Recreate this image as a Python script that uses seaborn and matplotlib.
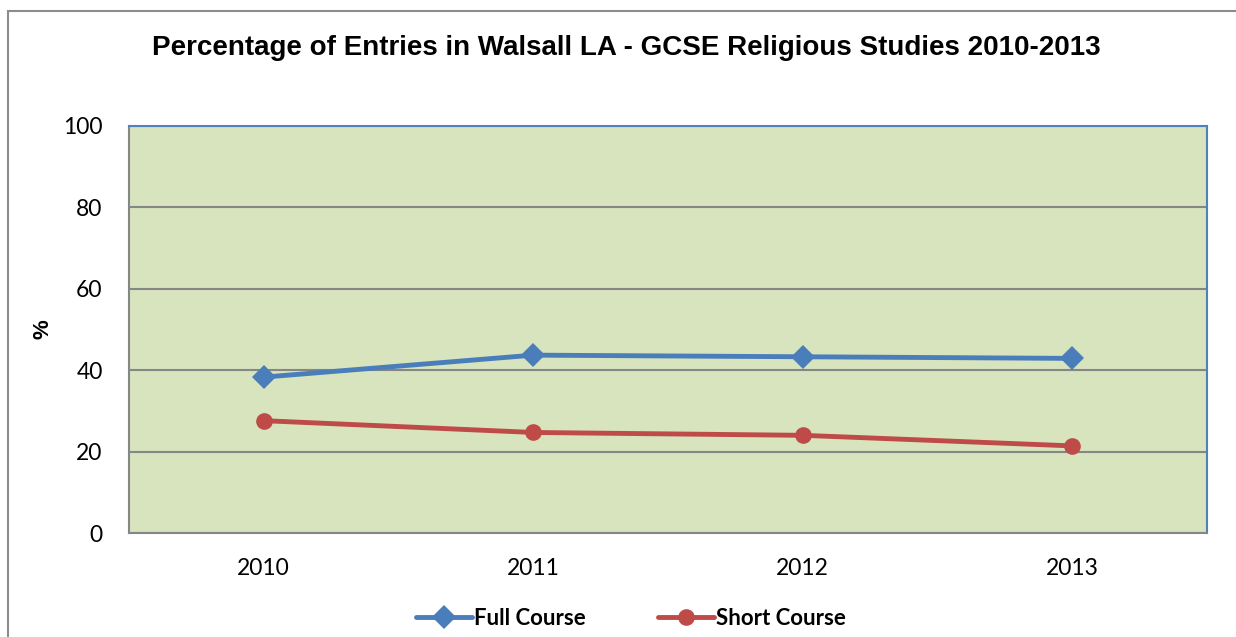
import matplotlib
matplotlib.use("Agg")
import matplotlib.pyplot as plt
import seaborn as sns
import pandas as pd
from matplotlib.patches import Rectangle

# Percentage of entries, Walsall LA GCSE RS
years = [2010, 2011, 2012, 2013]
full_course = [38.3, 43.7, 43.3, 42.9]
short_course = [27.6, 24.7, 24.0, 21.4]
series_names = ["Full Course", "Short Course"]
y_ticks = [0, 20, 40, 60, 80, 100]

df = pd.DataFrame({
    "year": years * 2,
    "value": full_course + short_course,
    "series": [series_names[0]] * len(years) + [series_names[1]] * len(years),
})

sns.set_style("white")
plt.rcParams["font.family"] = ["Liberation Sans", "DejaVu Sans"]
plt.rcParams["text.color"] = "black"
plt.rcParams["xtick.color"] = "black"
plt.rcParams["ytick.color"] = "black"
plt.rcParams["axes.labelcolor"] = "black"

fig = plt.figure(figsize=(12.36, 6.37), dpi=100)
ax = fig.add_axes([129 / 1236, 1 - 533 / 637, (1207 - 129) / 1236, (533 - 126) / 637])

# outer chart frame
fig.patches.append(Rectangle((8 / 1236, -0.1), 1.2, 1 - 11 / 637 + 0.1,
                             transform=fig.transFigure, fill=False,
                             edgecolor="#8c8c8c", linewidth=1.5))

ax.set_facecolor("#d7e4bd")
palette = {"Full Course": "#4a7ebb", "Short Course": "#be4b48"}
markers = {"Full Course": "D", "Short Course": "o"}
sns.lineplot(data=df, x="year", y="value", hue="series", style="series",
             palette=palette, markers=markers, dashes=False, linewidth=3.5,
             markersize=12, markeredgewidth=0, ax=ax, zorder=3)

ax.set_xlim(years[0] - 0.5, years[-1] + 0.5)
ax.set_ylim(0, 100)
ax.set_xticks(years)
ax.set_xticklabels([str(y) for y in years], family="Lato", fontsize=16.5)
ax.set_yticks(y_ticks)
ax.set_yticklabels([str(t) for t in y_ticks], family="Lato", fontsize=16.5)
ax.tick_params(axis="both", length=0)
ax.tick_params(axis="y", pad=19)
ax.tick_params(axis="x", pad=18)
ax.yaxis.grid(True, color="#868686", linewidth=1.5)
ax.set_axisbelow(True)

for s in ["left", "bottom"]:
    ax.spines[s].set_color("#868686")
    ax.spines[s].set_linewidth(1.5)
for s in ["top", "right"]:
    ax.spines[s].set_color("#4f81bd")
    ax.spines[s].set_linewidth(1.5)

ax.set_xlabel("")
ax.set_ylabel("%", fontsize=16, fontweight="bold")
ax.yaxis.set_label_coords(-0.070, 0.5)

fig.text(0.507, 1 - 48 / 637, "Percentage of Entries in Walsall LA - GCSE Religious Studies 2010-2013",
         ha="center", va="center", fontsize=20, fontweight="bold")

ax.legend(loc="center", bbox_to_anchor=(0.4657, -0.21),
          ncol=2, frameon=False, handlelength=2.5, columnspacing=3.28, handletextpad=0.1,
          prop={"family": "Lato", "weight": "bold", "size": 16})

fig.savefig("out.png", dpi=100)
